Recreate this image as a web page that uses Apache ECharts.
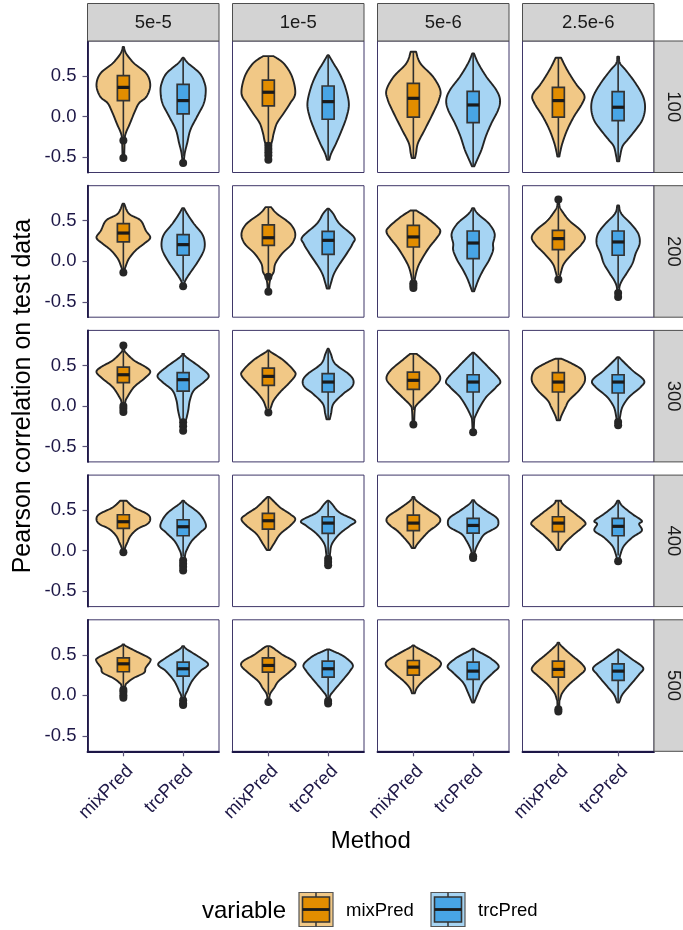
<!DOCTYPE html>
<html><head><meta charset="utf-8">
<script src="https://cdn.jsdelivr.net/npm/echarts@6/dist/echarts.min.js"></script>
<style>html,body{margin:0;padding:0;background:#fff}#c{width:683px;height:930px}</style>
</head><body><div id="c"></div>
<script>
// ---------------- data ----------------
const rates = ['5e-5', '1e-5', '5e-6', '2.5e-6'];
const sizes = ['100', '200', '300', '400', '500'];
const methods = ['mixPred', 'trcPred'];
const yTicks = [-0.5, 0, 0.5];
const yTickLabels = ['-0.5', '0.0', '0.5'];
// order in each row array: [rate0 mix, rate0 trc, rate1 mix, rate1 trc, ...]
// box stats: [lower whisker, q1, median, q3, upper whisker]
const box100 = [[-0.25,0.197,0.36,0.504,0.86],[-0.49,0.033,0.197,0.398,0.725],[-0.33,0.131,0.30,0.45,0.746],[-0.533,-0.033,0.184,0.377,0.758],
  [-0.512,-0.008,0.225,0.41,0.80],[-0.615,-0.074,0.143,0.311,0.779],[-0.492,-0.008,0.197,0.36,0.725],[-0.553,-0.05,0.115,0.307,0.738]];
const box200 = [[-0.10,0.238,0.348,0.463,0.709],[-0.25,0.074,0.205,0.328,0.656],[-0.17,0.197,0.29,0.45,0.668],[-0.336,0.086,0.258,0.369,0.648],
  [-0.22,0.176,0.30,0.443,0.627],[-0.369,0.033,0.225,0.373,0.656],[-0.17,0.143,0.279,0.381,0.689],[-0.33,0.074,0.238,0.373,0.689]];
const box300 = [[0.02,0.287,0.385,0.48,0.684],[-0.16,0.184,0.324,0.41,0.643],[-0.03,0.254,0.365,0.467,0.684],[-0.164,0.172,0.295,0.398,0.705],
  [-0.05,0.205,0.316,0.418,0.643],[-0.18,0.172,0.295,0.385,0.656],[-0.176,0.172,0.295,0.41,0.582],[-0.15,0.16,0.295,0.385,0.602]];
const box400 = [[0.02,0.275,0.357,0.443,0.615],[-0.07,0.184,0.295,0.381,0.615],[0.008,0.266,0.369,0.459,0.664],[-0.05,0.213,0.34,0.418,0.615],
  [0.033,0.246,0.34,0.439,0.664],[-0.03,0.217,0.311,0.398,0.623],[0.008,0.234,0.34,0.418,0.615],[-0.06,0.184,0.3,0.398,0.615]];
const box500 = [[0.11,0.291,0.389,0.463,0.627],[-0.01,0.238,0.328,0.41,0.607],[0.01,0.287,0.369,0.463,0.607],[-0.03,0.225,0.328,0.422,0.566],
  [0.025,0.25,0.348,0.43,0.615],[-0.09,0.197,0.299,0.41,0.574],[-0.07,0.225,0.32,0.422,0.648],[-0.09,0.184,0.299,0.389,0.566]];
// outliers
const out100 = [[-0.295,-0.512],[-0.574],[-0.36,-0.40,-0.44,-0.48,-0.533],[],[],[],[],[]];
const out200 = [[-0.14],[-0.307],[-0.19,-0.377],[],[-0.27,-0.30,-0.33],[],[0.762,-0.225],[-0.39,-0.44]];
const out300 = [[0.746,0.0,-0.035,-0.074],[-0.2,-0.25,-0.307],[-0.082],[],[-0.23],[-0.324],[],[-0.197,-0.238]];
const out400 = [[-0.02],[-0.12,-0.16,-0.2,-0.246],[],[-0.1,-0.14,-0.18],[],[-0.07,-0.09],[],[-0.131]];
const out500 = [[0.07,0.04,0.0,-0.03],[-0.06,-0.1,-0.12],[-0.082],[-0.07,-0.1],[],[],[-0.17,-0.2],[]];
// violin density profiles: [value, relative density (1 = widest)]
const violin100 = [
  [[-0.512,0.03],[-0.287,0.05],[-0.205,0.09],[-0.082,0.25],[0.041,0.4],[0.164,0.58],[0.246,0.86],[0.389,1.0],[0.533,0.85],[0.656,0.4],[0.78,0.1],[0.86,0.02]],
  [[-0.574,0.02],[-0.451,0.06],[-0.328,0.15],[-0.164,0.27],[0,0.52],[0.164,0.77],[0.307,0.84],[0.41,0.8],[0.533,0.62],[0.656,0.19],[0.725,0.02]],
  [[-0.533,0.04],[-0.41,0.06],[-0.287,0.15],[-0.205,0.2],[-0.082,0.32],[0.041,0.57],[0.164,0.81],[0.287,1.0],[0.492,0.88],[0.656,0.57],[0.746,0.19]],
  [[-0.533,0.04],[-0.451,0.12],[-0.328,0.3],[-0.164,0.51],[0,0.69],[0.164,0.77],[0.369,0.63],[0.533,0.42],[0.656,0.2],[0.758,0.02]],
  [[-0.512,0.06],[-0.451,0.1],[-0.328,0.17],[-0.164,0.42],[0.041,0.73],[0.205,0.95],[0.328,1.0],[0.492,0.73],[0.656,0.26],[0.80,0.1]],
  [[-0.615,0.04],[-0.533,0.15],[-0.41,0.31],[-0.246,0.47],[-0.082,0.68],[0.082,0.93],[0.205,1.0],[0.328,0.86],[0.492,0.49],[0.656,0.19],[0.779,0.03]],
  [[-0.492,0.04],[-0.451,0.06],[-0.328,0.15],[-0.164,0.33],[0,0.58],[0.164,0.89],[0.266,0.96],[0.41,0.64],[0.574,0.33],[0.725,0.1]],
  [[-0.553,0.04],[-0.492,0.07],[-0.369,0.16],[-0.287,0.35],[-0.164,0.65],[-0.041,0.9],[0.102,1.0],[0.246,0.93],[0.41,0.65],[0.574,0.28],[0.656,0.07],[0.738,0.03]]
];
const violin200 = [
  [[-0.14,0.03],[-0.111,0.04],[-0.049,0.1],[0.033,0.21],[0.135,0.46],[0.217,0.77],[0.291,1.0],[0.381,0.83],[0.504,0.64],[0.586,0.21],[0.709,0.03]],
  [[-0.307,0.03],[-0.254,0.06],[-0.193,0.16],[-0.111,0.33],[0.012,0.58],[0.135,0.77],[0.238,0.8],[0.34,0.7],[0.463,0.4],[0.586,0.15],[0.656,0.03]],
  [[-0.377,0.03],[-0.275,0.04],[-0.193,0.1],[-0.131,0.2],[-0.029,0.26],[0.094,0.51],[0.217,0.88],[0.34,1.0],[0.463,0.81],[0.586,0.32],[0.668,0.1]],
  [[-0.336,0.05],[-0.275,0.1],[-0.152,0.22],[-0.029,0.44],[0.094,0.69],[0.217,0.91],[0.299,0.96],[0.463,0.42],[0.586,0.19],[0.648,0.03]],
  [[-0.357,0.03],[-0.275,0.04],[-0.193,0.07],[-0.07,0.17],[0.053,0.36],[0.176,0.6],[0.279,0.85],[0.361,1.0],[0.422,0.91],[0.545,0.48],[0.627,0.1]],
  [[-0.369,0.04],[-0.234,0.19],[-0.111,0.37],[0.012,0.59],[0.135,0.74],[0.217,0.74],[0.34,0.8],[0.463,0.59],[0.586,0.17],[0.656,0.03]],
  [[-0.225,0.03],[-0.131,0.1],[-0.029,0.21],[0.094,0.52],[0.197,0.83],[0.291,0.99],[0.381,0.83],[0.504,0.4],[0.627,0.12],[0.689,0.04],[0.762,0.02]],
  [[-0.439,0.03],[-0.316,0.05],[-0.234,0.15],[-0.152,0.31],[-0.029,0.53],[0.094,0.65],[0.217,0.8],[0.34,0.75],[0.463,0.47],[0.586,0.12],[0.689,0.03]]
];
const violin300 = [
  [[-0.074,0.03],[0.049,0.07],[0.111,0.15],[0.234,0.4],[0.336,0.77],[0.418,1.0],[0.48,0.83],[0.561,0.4],[0.664,0.07],[0.684,0.04],[0.746,0.02]],
  [[-0.307,0.03],[-0.217,0.06],[-0.156,0.12],[-0.053,0.19],[0.07,0.25],[0.193,0.4],[0.295,0.77],[0.377,0.95],[0.48,0.62],[0.602,0.12],[0.643,0.03]],
  [[-0.082,0.03],[-0.012,0.1],[0.07,0.2],[0.172,0.44],[0.275,0.75],[0.377,1.0],[0.439,0.94],[0.561,0.57],[0.664,0.1],[0.684,0.03]],
  [[-0.164,0.06],[-0.094,0.11],[0.029,0.2],[0.152,0.57],[0.234,0.88],[0.316,0.94],[0.398,0.75],[0.52,0.26],[0.643,0.1],[0.705,0.02]],
  [[-0.23,0.03],[-0.053,0.05],[0.008,0.11],[0.111,0.42],[0.234,0.79],[0.336,1.0],[0.439,0.85],[0.561,0.42],[0.643,0.12]],
  [[-0.324,0.02],[-0.176,0.04],[-0.135,0.07],[-0.012,0.25],[0.111,0.49],[0.234,0.86],[0.316,1.0],[0.48,0.56],[0.602,0.2],[0.656,0.03]],
  [[-0.176,0.06],[-0.115,0.12],[-0.012,0.27],[0.07,0.4],[0.193,0.77],[0.316,0.99],[0.439,0.89],[0.52,0.52],[0.582,0.12]],
  [[-0.238,0.03],[-0.135,0.07],[-0.012,0.16],[0.111,0.41],[0.234,0.84],[0.316,0.96],[0.439,0.53],[0.561,0.15],[0.602,0.03]]
];
const violin400 = [
  [[-0.02,0.03],[0.041,0.07],[0.102,0.15],[0.184,0.27],[0.266,0.52],[0.328,0.89],[0.389,1.0],[0.451,0.89],[0.533,0.4],[0.615,0.12]],
  [[-0.246,0.03],[-0.061,0.07],[0.02,0.15],[0.123,0.33],[0.225,0.64],[0.307,0.85],[0.451,0.62],[0.574,0.15],[0.615,0.03]],
  [[0.008,0.06],[0.082,0.2],[0.205,0.44],[0.307,0.81],[0.389,1.0],[0.451,0.81],[0.533,0.44],[0.635,0.12],[0.664,0.03]],
  [[-0.184,0.03],[-0.041,0.07],[0.082,0.14],[0.205,0.42],[0.307,0.81],[0.369,1.0],[0.471,0.42],[0.574,0.15],[0.615,0.03]],
  [[0.033,0.06],[0.082,0.15],[0.164,0.36],[0.246,0.6],[0.307,0.85],[0.369,1.0],[0.43,0.91],[0.512,0.54],[0.615,0.12],[0.664,0.03]],
  [[-0.09,0.03],[-0.02,0.06],[0.041,0.12],[0.123,0.25],[0.205,0.43],[0.287,0.86],[0.348,0.94],[0.41,0.86],[0.492,0.49],[0.574,0.15],[0.623,0.03]],
  [[0.008,0.06],[0.082,0.21],[0.184,0.52],[0.287,0.89],[0.348,1.0],[0.451,0.64],[0.574,0.17],[0.615,0.1]],
  [[-0.131,0.03],[-0.041,0.09],[0.061,0.22],[0.164,0.53],[0.246,0.88],[0.328,0.78],[0.369,0.88],[0.451,0.53],[0.553,0.15],[0.615,0.03]]
];
const violin500 = [
  [[-0.029,0.03],[0.115,0.07],[0.156,0.15],[0.217,0.4],[0.279,0.77],[0.34,0.83],[0.422,1.0],[0.463,0.95],[0.545,0.46],[0.607,0.1],[0.627,0.03]],
  [[-0.12,0.03],[-0.008,0.07],[0.053,0.15],[0.176,0.33],[0.299,0.64],[0.381,0.93],[0.463,0.64],[0.566,0.15],[0.607,0.03]],
  [[-0.082,0.03],[0.012,0.06],[0.094,0.22],[0.176,0.38],[0.279,0.75],[0.361,1.0],[0.422,0.94],[0.504,0.51],[0.586,0.17],[0.607,0.05]],
  [[-0.1,0.03],[-0.008,0.07],[0.053,0.2],[0.176,0.51],[0.299,0.81],[0.381,0.91],[0.484,0.57],[0.545,0.19],[0.566,0.05]],
  [[0.025,0.05],[0.094,0.14],[0.176,0.36],[0.279,0.73],[0.361,1.0],[0.422,0.98],[0.504,0.6],[0.586,0.15],[0.615,0.03]],
  [[-0.09,0.03],[-0.07,0.06],[0.033,0.19],[0.156,0.37],[0.279,0.74],[0.361,0.95],[0.463,0.62],[0.545,0.17],[0.574,0.04]],
  [[-0.193,0.03],[-0.07,0.04],[-0.049,0.06],[0.033,0.15],[0.135,0.4],[0.242,0.77],[0.32,0.99],[0.402,0.83],[0.504,0.46],[0.607,0.12],[0.648,0.03]],
  [[-0.09,0.03],[-0.07,0.06],[0.012,0.16],[0.135,0.47],[0.258,0.78],[0.34,0.93],[0.443,0.53],[0.525,0.19],[0.566,0.03]]
];

const boxRows = [box100, box200, box300, box400, box500];
const outRows = [out100, out200, out300, out400, out500];
const violinRows = [violin100, violin200, violin300, violin400, violin500];

// ---------------- style ----------------
const FONT = '"Liberation Sans", Arial, Helvetica, sans-serif';
const NAVY = '#1c1646';
const PANEL_BORDER = '#3f3768';
const violinFill = ['#F1C886', '#A6D4F3'];
const boxFill = ['#E28D00', '#48A5E5'];
const OUTLINE = '#242424';

const L0 = 87.5, PW = 131.5, PX = 145;
const T0 = 41, PH = 131.5, PY = 144.7;
const YMIN = -0.69, YMAX = 0.932;

function densify(prof) {
  const res = [];
  const n = prof.length;
  for (let i = 0; i < n - 1; i++) {
    const p0 = prof[Math.max(0, i - 1)], p1 = prof[i], p2 = prof[i + 1], p3 = prof[Math.min(n - 1, i + 2)];
    const steps = 10;
    for (let s = 0; s < steps; s++) {
      const t = s / steps, t2 = t * t, t3 = t2 * t;
      const cr = (a, b, c, d) => 0.5 * ((2 * b) + (-a + c) * t + (2 * a - 5 * b + 4 * c - d) * t2 + (-a + 3 * b - 3 * c + d) * t3);
      let y = cr(p0[0], p1[0], p2[0], p3[0]);
      let w = cr(p0[1], p1[1], p2[1], p3[1]);
      y = Math.min(Math.max(y, p1[0]), p2[0]);
      w = Math.max(w, 0.015);
      res.push([y, w]);
    }
  }
  res.push(prof[n - 1]);
  return res;
}

function makeRender(r) {
  const boxes = boxRows[r], outs = outRows[r], viols = violinRows[r];
  return function (params, api) {
    const x = api.value(0), k = api.value(1);
    const m = Math.round(x) - 1;
    const halfW = api.size([0.45, 0])[0];
    const bHalf = api.size([0.1, 0])[0];
    const cx = api.coord([x, 0])[0];
    const Y = v => api.coord([x, v])[1];
    const pts = densify(viols[k]);
    const right = pts.map(p => [cx + p[1] * halfW, Y(p[0])]);
    const left = pts.slice().reverse().map(p => [cx - p[1] * halfW, Y(p[0])]);
    const b = boxes[k];
    const children = [];
    children.push({ type: 'polygon', shape: { points: right.concat(left) },
      style: { fill: violinFill[m], stroke: OUTLINE, lineWidth: 1.9, lineJoin: 'round' } });
    children.push({ type: 'line', shape: { x1: cx, y1: Y(b[3]), x2: cx, y2: Y(b[4]) }, style: { stroke: '#2e2e2e', lineWidth: 1.6 } });
    children.push({ type: 'line', shape: { x1: cx, y1: Y(b[1]), x2: cx, y2: Y(b[0]) }, style: { stroke: '#2e2e2e', lineWidth: 1.6 } });
    children.push({ type: 'rect', shape: { x: cx - bHalf, y: Y(b[3]), width: 2 * bHalf, height: Y(b[1]) - Y(b[3]) },
      style: { fill: boxFill[m], stroke: '#333', lineWidth: 1.7 } });
    children.push({ type: 'line', shape: { x1: cx - bHalf, y1: Y(b[2]), x2: cx + bHalf, y2: Y(b[2]) }, style: { stroke: '#1a1a1a', lineWidth: 3.2 } });
    outs[k].forEach(v => {
      children.push({ type: 'circle', shape: { cx: cx, cy: Y(v), r: 4 }, style: { fill: '#262626' } });
    });
    return { type: 'group', children: children };
  };
}

const grids = [], xAxes = [], yAxes = [], series = [];
for (let r = 0; r < sizes.length; r++) {
  for (let c = 0; c < rates.length; c++) {
    const i = r * rates.length + c;
    grids.push({ left: L0 + c * PX, top: T0 + r * PY, width: PW, height: PH, show: true,
      borderColor: PANEL_BORDER, borderWidth: 1, backgroundColor: '#fff', containLabel: false });
    const bottom = r === sizes.length - 1;
    xAxes.push({ type: 'value', gridIndex: i, min: 0.4, max: 2.6,
      axisLine: { show: bottom, onZero: false, lineStyle: { color: NAVY, width: 1.8 } },
      axisTick: { show: bottom, customValues: [1, 2], length: 5, lineStyle: { color: '#5a5378', width: 1.2 } },
      axisLabel: { show: bottom, customValues: [1, 2], formatter: v => methods[Math.round(v) - 1],
        rotate: 45, margin: 10, align: 'right', verticalAlign: 'top',
        color: NAVY, fontSize: 18.5, fontFamily: FONT },
      splitLine: { show: false } });
    const leftCol = c === 0;
    yAxes.push({ type: 'value', gridIndex: i, min: YMIN, max: YMAX,
      axisLine: { show: leftCol, onZero: false, lineStyle: { color: NAVY, width: 1.8 } },
      axisTick: { show: leftCol, customValues: yTicks, length: 5, lineStyle: { color: '#5a5378', width: 1.2 } },
      axisLabel: { show: leftCol, customValues: yTicks,
        formatter: v => yTickLabels[yTicks.findIndex(t => Math.abs(t - v) < 1e-9)],
        margin: 11, color: NAVY, fontSize: 18.5, fontFamily: FONT },
      splitLine: { show: false } });
    series.push({ type: 'custom', xAxisIndex: i, yAxisIndex: i, renderItem: makeRender(r),
      data: [[1, c * 2], [2, c * 2 + 1]], silent: true, animation: false });
  }
}

// strips, titles, legend
const graphics = [];
rates.forEach((lab, c) => {
  const x = L0 + c * PX;
  graphics.push({ type: 'rect', shape: { x: x, y: 3.5, width: PW, height: T0 - 3.5 },
    style: { fill: '#D3D3D3', stroke: '#4d4d4d', lineWidth: 1 }, z: 10 });
  graphics.push({ type: 'text', x: x + PW / 2, y: 22.5, style: { text: lab, fill: '#1a1a1a', font: '18.5px ' + FONT,
    textAlign: 'center', textVerticalAlign: 'middle' }, z: 11 });
});
sizes.forEach((lab, r) => {
  const y = T0 + r * PY;
  const x = L0 + 3 * PX + PW;
  graphics.push({ type: 'rect', shape: { x: x, y: y, width: 40, height: PH },
    style: { fill: '#D3D3D3', stroke: '#4d4d4d', lineWidth: 1 }, z: 10 });
  graphics.push({ type: 'text', x: x + 19, y: y + PH / 2, rotation: -Math.PI / 2,
    style: { text: lab, fill: '#1a1a1a', font: '18.5px ' + FONT, textAlign: 'center', textVerticalAlign: 'middle' }, z: 11 });
});
graphics.push({ type: 'text', x: 23, y: T0 + (4 * PY + PH) / 2, rotation: Math.PI / 2,
  style: { text: 'Pearson correlation on test data', fill: '#000', font: '25px ' + FONT, textAlign: 'center', textVerticalAlign: 'middle' } });
graphics.push({ type: 'text', x: L0 + (3 * PX + PW) / 2, y: 841,
  style: { text: 'Method', fill: '#000', font: '24px ' + FONT, textAlign: 'center', textVerticalAlign: 'middle' } });
graphics.push({ type: 'text', x: 286, y: 911,
  style: { text: 'variable', fill: '#000', font: '24px ' + FONT, textAlign: 'right', textVerticalAlign: 'middle' } });
const keyX = [299, 431], labX = [346, 478];
methods.forEach((name, m) => {
  const kx = keyX[m], ky = 892.5, ks = 34;
  graphics.push({ type: 'rect', shape: { x: kx, y: ky, width: ks, height: ks }, style: { fill: violinFill[m], stroke: '#555', lineWidth: 1.2 } });
  graphics.push({ type: 'line', shape: { x1: kx + ks / 2, y1: ky, x2: kx + ks / 2, y2: ky + ks }, style: { stroke: '#333', lineWidth: 1.5 } });
  graphics.push({ type: 'rect', shape: { x: kx + 3.5, y: ky + 4.5, width: ks - 7, height: ks - 9 }, style: { fill: boxFill[m], stroke: '#333', lineWidth: 1.6 } });
  graphics.push({ type: 'line', shape: { x1: kx + 3.5, y1: ky + ks / 2, x2: kx + ks - 3.5, y2: ky + ks / 2 }, style: { stroke: '#1a1a1a', lineWidth: 2.8 } });
  graphics.push({ type: 'text', x: labX[m], y: 911, style: { text: name, fill: '#000', font: '18.5px ' + FONT, textAlign: 'left', textVerticalAlign: 'middle' } });
});

const chart = echarts.init(document.getElementById('c'), null, { renderer: 'canvas' });
chart.setOption({
  animation: false,
  backgroundColor: '#fff',
  grid: grids, xAxis: xAxes, yAxis: yAxes, series: series,
  graphic: { elements: graphics }
});
</script>
</body></html>
